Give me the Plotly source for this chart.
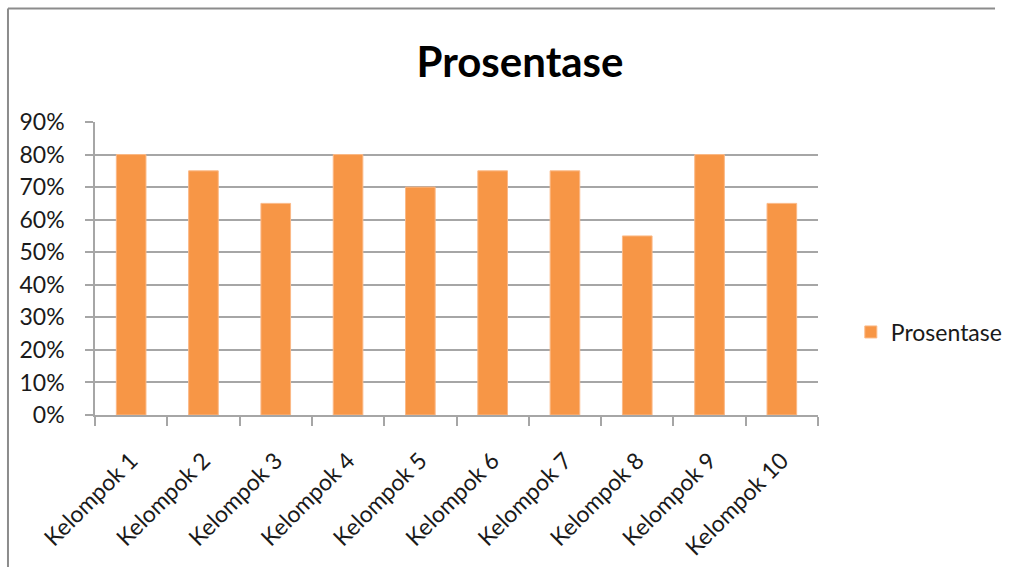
import plotly.graph_objects as go

categories = ["Kelompok 1", "Kelompok 2", "Kelompok 3", "Kelompok 4", "Kelompok 5",
              "Kelompok 6", "Kelompok 7", "Kelompok 8", "Kelompok 9", "Kelompok 10"]
values = [0.80, 0.75, 0.65, 0.80, 0.70, 0.75, 0.75, 0.55, 0.80, 0.65]
series_name = "Prosentase"
title_text = "Prosentase"

W, H = 1020, 568
L, R, T, B = 95, 822, 122, 415

def px_x(p):
    return (p - L) / (R - L)

def px_y(p):
    return (B - p) / (B - T)

FONT = "Lato"
GRID = "#a6a6a6"
TXT = "#1a1a1a"

fig = go.Figure()
fig.add_trace(go.Bar(
    x=categories, y=values, name=series_name,
    marker=dict(color="#f79646", line=dict(color="#fbb987", width=1)),
    width=0.41, showlegend=True,
))
fig.add_trace(go.Scatter(
    x=categories, y=values, mode="markers", marker=dict(opacity=0),
    xaxis="x2", yaxis="y", showlegend=False, hoverinfo="skip",
))

fig.update_layout(
    width=W, height=H,
    margin=dict(l=L, r=W - R, t=T, b=H - B),
    paper_bgcolor="white", plot_bgcolor="white",
    title=dict(text="<b>" + title_text + "</b>", x=520 / W, xanchor="center",
               y=1 - 62 / H, yanchor="middle",
               font=dict(family=FONT, size=42, color="#000000")),
    font=dict(family=FONT, color=TXT),
    showlegend=True,
    legend=dict(x=px_x(855), xanchor="left", y=px_y(332), yanchor="middle",
                font=dict(family=FONT, size=23, color=TXT),
                bgcolor="rgba(0,0,0,0)"),
    bargap=0.59,
    xaxis=dict(
        showline=True, linecolor=GRID, linewidth=1.5,
        ticks="outside", ticklen=9, tickcolor=GRID, tickwidth=1.5,
        tickson="boundaries", showticklabels=False, showgrid=False,
        range=[-0.5, 9.5], automargin=False,
    ),
    xaxis2=dict(
        overlaying="x", anchor="y", side="bottom", matches="x",
        ticks="outside", ticklen=22, tickcolor="rgba(0,0,0,0)",
        tickangle=-45, showline=False, showgrid=False, zeroline=False,
        tickfont=dict(family=FONT, size=23, color=TXT), automargin=False,
    ),
    yaxis=dict(
        range=[0, 0.9], dtick=0.1, tickformat=".0%",
        showgrid=True, gridcolor=GRID, gridwidth=1.5,
        showline=True, linecolor=GRID, linewidth=1.5,
        ticks="outside", ticklen=8, tickcolor=GRID, tickwidth=1.5,
        ticklabelstandoff=16, automargin=False,
        tickfont=dict(family=FONT, size=23, color=TXT),
        zeroline=False,
    ),
)

# chart frame: top and left edges
fig.add_shape(type="line", xref="paper", yref="paper",
              x0=px_x(7.5), x1=px_x(1000), y0=px_y(8.5), y1=px_y(8.5),
              line=dict(color="#8c8c8c", width=2), layer="below")
fig.add_shape(type="line", xref="paper", yref="paper",
              x0=px_x(7.5), x1=px_x(7.5), y0=px_y(8.5), y1=px_y(567),
              line=dict(color="#8c8c8c", width=2), layer="below")

fig.write_html("out.html")
